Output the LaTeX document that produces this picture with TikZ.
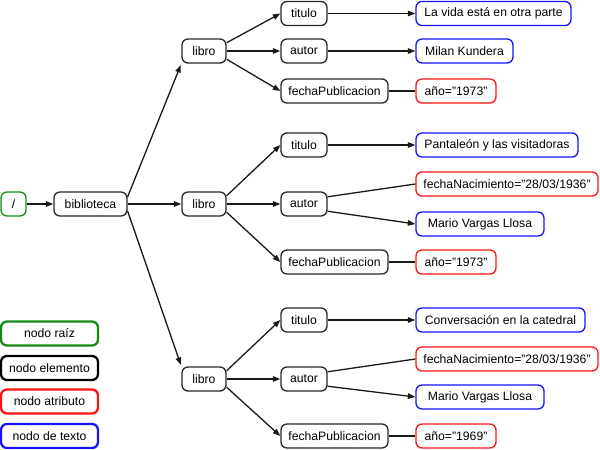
\documentclass[tikz,border=0pt]{standalone}
\usepackage{fontspec}
\setmainfont{Liberation Sans}
\usetikzlibrary{arrows.meta}
\definecolor{rootgreen}{RGB}{20,140,20}
\definecolor{attrred}{RGB}{255,20,20}
\definecolor{txtblue}{RGB}{20,20,255}
\tikzset{
  box/.style={draw, rounded corners=6pt, minimum height=24pt, inner xsep=2pt, inner ysep=0pt,
    line width=1.3pt, font=\fontsize{12.2}{14}\selectfont},
  elem/.style={box, draw=black!85},
  attr/.style={box, draw=attrred},
  txt/.style={box, draw=txtblue},
  rootn/.style={box, draw=rootgreen},
  leg/.style={line width=2.3pt},
  edge/.style={line width=1.3pt, draw=black!90, -{Triangle[length=7.5pt,width=5.5pt]}},
  plainedge/.style={line width=1.3pt, draw=black!90},
}
\begin{document}
\begin{tikzpicture}[x=1pt,y=-1pt]
\useasboundingbox (0,0) rectangle (600,450);
% root and library
\node[rootn, minimum width=25pt] (root) at (13.5,204) {/};
\node[elem, minimum width=73pt] (bib) at (90.5,204) {biblioteca};
% libros
\node[elem, minimum width=44pt] (l1) at (204,51) {libro};
\node[elem, minimum width=44pt] (l2) at (204,204) {libro};
\node[elem, minimum width=44pt] (l3) at (204,379) {libro};
% book 1
\node[elem, minimum width=46pt] (ti1) at (304,13.5) {titulo};
\node[elem, minimum width=46pt] (au1) at (304,51) {autor};
\node[elem, minimum width=107pt] (fp1) at (334.5,91) {fechaPublicacion};
\node[txt, minimum width=155pt] (t1) at (493.5,13.5) {La vida está en otra parte};
\node[txt, minimum width=97pt] (t2) at (464.5,51) {Milan Kundera};
\node[attr, minimum width=80pt] (a1) at (456,91) {año="1973"};
% book 2
\node[elem, minimum width=46pt] (ti2) at (304,145) {titulo};
\node[elem, minimum width=46pt] (au2) at (304,204) {autor};
\node[elem, minimum width=107pt] (fp2) at (334.5,262) {fechaPublicacion};
\node[txt, minimum width=162pt] (t3) at (497,145) {Pantaleón y las visitadoras};
\node[attr, minimum width=182pt] (a2) at (507,184) {fechaNacimiento="28/03/1936"};
\node[txt, minimum width=128pt] (t4) at (480,224) {Mario Vargas Llosa};
\node[attr, minimum width=80pt] (a3) at (456,262) {año="1973"};
% book 3
\node[elem, minimum width=46pt] (ti3) at (304,320) {titulo};
\node[elem, minimum width=46pt] (au3) at (304,379) {autor};
\node[elem, minimum width=107pt] (fp3) at (334.5,436) {fechaPublicacion};
\node[txt, minimum width=169pt] (t5) at (500.5,320) {Conversación en la catedral};
\node[attr, minimum width=182pt] (a4) at (507,359) {fechaNacimiento="28/03/1936"};
\node[txt, minimum width=128pt] (t6) at (480,397) {Mario Vargas Llosa};
\node[attr, minimum width=80pt] (a5) at (456,436) {año="1969"};
% legend
\node[rootn, leg, minimum width=97pt] (lg1) at (49.5,333.5) {nodo raíz};
\node[elem, leg, draw=black, minimum width=97pt] (lg2) at (49.5,368) {nodo elemento};
\node[attr, leg, minimum width=97pt] (lg3) at (49.5,401.5) {nodo atributo};
\node[txt, leg, minimum width=97pt] (lg4) at (49.5,436) {nodo de texto};
% edges
\draw[edge] (root) -- (bib);
\draw[edge, shorten >=1.5pt] (bib.11) -- (l1.south west);
\draw[edge] (bib) -- (l2);
\draw[edge, shorten >=1.5pt] (bib.-11) -- (l3.north west);
\foreach \l/\t/\a/\f in {l1/ti1/au1/fp1, l2/ti2/au2/fp2, l3/ti3/au3/fp3}{
  \draw[edge] (\l.20) -- (\t.west);
  \draw[edge] (\l) -- (\a);
  \draw[edge] (\l.-20) -- (\f.west);
}
\draw[edge] (ti1) -- (t1);
\draw[edge] (au1) -- (t2);
\draw[plainedge] (fp1) -- (a1);
\draw[edge] (ti2) -- (t3);
\draw[plainedge] (au2.17) -- (a2.west);
\draw[edge] (au2.-17) -- (t4.west);
\draw[plainedge] (fp2) -- (a3);
\draw[edge] (ti3) -- (t5);
\draw[plainedge] (au3.17) -- (a4.west);
\draw[edge] (au3.-17) -- (t6.west);
\draw[plainedge] (fp3) -- (a5);
\end{tikzpicture}
\end{document}
